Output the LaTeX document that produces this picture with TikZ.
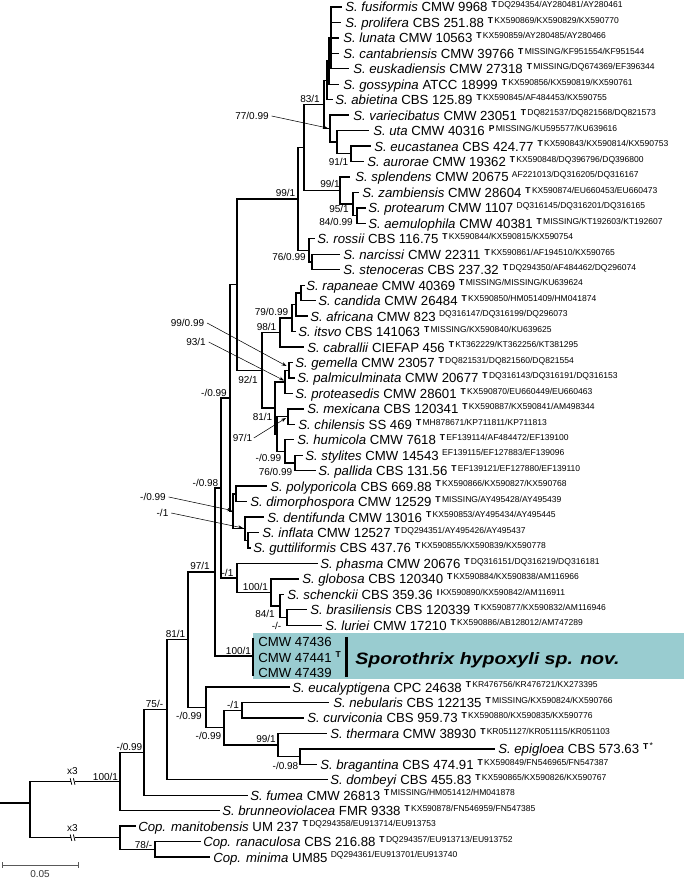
\documentclass[tikz,border=0pt]{standalone}
\usepackage{fontspec}
\setmainfont{Liberation Sans}
\usepackage{graphicx}
\usetikzlibrary{arrows.meta}
\definecolor{boxteal}{RGB}{153,204,208}
\newcommand\acT[1]{\hspace{3pt}\raisebox{3.2pt}{\fontsize{6.4}{7}\selectfont\textbf{T}\hspace{1pt}#1}}
\newcommand\acX[2]{\hspace{3pt}\raisebox{3.2pt}{\fontsize{6.4}{7}\selectfont\textbf{#1}\hspace{1pt}#2}}
\newcommand\acN[1]{\hspace{2.5pt}\raisebox{3.2pt}{\fontsize{6.4}{7}\selectfont #1}}
\begin{document}
\begin{tikzpicture}[x=0.75pt,y=-0.75pt,
  br/.style={line width=1.05pt, line cap=rect},
  tip/.style={anchor=base west, inner sep=0pt, font=\fontsize{9.9}{11}\selectfont},
  lab/.style={inner sep=0pt, font=\fontsize{7.5}{8}\selectfont},
  arr/.style={line width=0.4pt, -{Stealth[length=3.6pt,width=2.6pt]}},
  brk/.style={line width=0.6pt}]
\useasboundingbox (0,0) rectangle (684,880);
% new species box
\fill[boxteal] (253,633) rectangle (684,679);
\draw[line width=2.4pt] (346.5,637) -- (346.5,676.5);
\node[anchor=base west, inner sep=0pt, font=\fontsize{12.4}{14}\selectfont\bfseries\itshape] (spname) at (355,664) {\scalebox{1.185}[1]{Sporothrix hypoxyli sp. nov.}};
\node[tip] (n42) at (258,646.5) {CMW 47436};
\node[tip] (n43) at (258,662) {CMW 47441\acX{T}{}};
\node[tip] (n44) at (258,677) {CMW 47439};
% internal nodes
\coordinate (C1) at (331,37.9);
\coordinate (C2) at (329,61.1);
\coordinate (C3) at (327,80.4);
\coordinate (EA) at (351,153.8);
\coordinate (U) at (337,142.2);
\coordinate (V) at (330,128.7);
\coordinate (N83) at (324,104.55);
\coordinate (P) at (357,215.65);
\coordinate (Z) at (353,204.1);
\coordinate (S) at (340,190.55);
\coordinate (N304) at (304,147.55);
\coordinate (NS) at (312,262);
\coordinate (R) at (309,250.4);
\coordinate (N99) at (298,199);
\coordinate (A3) at (301,292.9);
\coordinate (A2) at (296,304.5);
\coordinate (A1) at (292,318);
\coordinate (N98) at (280,332.5);
\coordinate (G1) at (289,370.2);
\coordinate (G2) at (285,381.8);
\coordinate (MC) at (288,416.55);
\coordinate (SP) at (295,462.9);
\coordinate (H) at (285,451.3);
\coordinate (M) at (277,433.9);
\coordinate (N81a) at (275,407.85);
\coordinate (N92) at (262,370.2);
\coordinate (X) at (237,284.6);
\coordinate (PD) at (236,493.8);
\coordinate (IG) at (248,540.2);
\coordinate (DIG) at (245,528.6);
\coordinate (Y) at (233,511.2);
\coordinate (N099) at (230,397.9);
\coordinate (BL) at (287,617.45);
\coordinate (SC) at (280,605.9);
\coordinate (GL) at (271,592.35);
\coordinate (PH) at (237,577.9);
\coordinate (N098) at (221,487.9);
\coordinate (NEW) at (253,656.05);
\coordinate (nTop) at (253,638.5);
\coordinate (nBot) at (253,675.5);
\coordinate (N97) at (215,572);
\coordinate (NC) at (242,710.2);
\coordinate (EB) at (300,756.55);
\coordinate (TH) at (278,745);
\coordinate (F) at (224,727.6);
\coordinate (E) at (206,707.3);
\coordinate (N81b) at (188,639.65);
\coordinate (N75) at (167,709.7);
\coordinate (N0993) at (144,752.45);
\coordinate (N100) at (120,781.5);
\coordinate (CR) at (155,849.25);
\coordinate (COP) at (120,837.7);
\coordinate (ROOT) at (30,803);
\coordinate (R0) at (0,803);
% tip branch ends
\coordinate (e1) at (341,7.0);
\coordinate (e2) at (340,22.5);
\coordinate (e3) at (338,37.9);
\coordinate (e4) at (338,53.4);
\coordinate (e5) at (348,68.8);
\coordinate (e6) at (338,84.3);
\coordinate (e7) at (332,99.7);
\coordinate (e8) at (348,115.2);
\coordinate (e9) at (368,130.6);
\coordinate (e10) at (370,146.1);
\coordinate (e11) at (363,161.5);
\coordinate (e12) at (349,177.0);
\coordinate (e13) at (358,192.5);
\coordinate (e14) at (365,207.9);
\coordinate (e15) at (365,223.4);
\coordinate (e16) at (314,238.8);
\coordinate (e17) at (339,254.3);
\coordinate (e18) at (339,269.7);
\coordinate (e19) at (304,285.2);
\coordinate (e20) at (315,300.6);
\coordinate (e21) at (307,316.1);
\coordinate (e22) at (295,331.5);
\coordinate (e23) at (303,347.0);
\coordinate (e24) at (292,362.5);
\coordinate (e25) at (294,377.9);
\coordinate (e26) at (292,393.4);
\coordinate (e27) at (303,408.8);
\coordinate (e28) at (294,424.3);
\coordinate (e29) at (293,439.7);
\coordinate (e30) at (302,455.2);
\coordinate (e31) at (315,470.6);
\coordinate (e32) at (266,486.1);
\coordinate (e33) at (246,501.5);
\coordinate (e34) at (263,517.0);
\coordinate (e35) at (258,532.5);
\coordinate (e36) at (250,547.9);
\coordinate (e37) at (317,563.4);
\coordinate (e38) at (298,578.8);
\coordinate (e39) at (283,594.3);
\coordinate (e40) at (306,609.7);
\coordinate (e41) at (321,625.2);
\coordinate (e45) at (289,687.0);
\coordinate (e46) at (328,702.5);
\coordinate (e47) at (303,717.9);
\coordinate (e48) at (326,733.4);
\coordinate (e49) at (494,748.8);
\coordinate (e50) at (316,764.3);
\coordinate (e51) at (327,779.7);
\coordinate (e52) at (247,795.2);
\coordinate (e53) at (219,810.6);
\coordinate (e54) at (135,826.1);
\coordinate (e55) at (200,841.5);
\coordinate (e56) at (209,857.0);
% branches
\foreach \pa/\ch in {C1/e1,C1/e2,C1/e3,C1/e4,C1/e5,C2/C1,C2/e6,C3/C2,C3/e7,
  N83/C3,N83/V,V/e8,V/U,U/e9,U/EA,EA/e10,EA/e11,N304/N83,N304/S,S/e12,S/Z,
  Z/e13,Z/P,P/e14,P/e15,N99/N304,N99/R,R/e16,R/NS,NS/e17,NS/e18,X/N99,X/N92,
  N92/N98,N92/N81a,N98/A1,N98/e23,A1/A2,A1/e22,A2/A3,A2/e21,A3/e19,A3/e20,
  N81a/G2,N81a/M,G2/G1,G2/e26,G1/e24,G1/e25,M/MC,M/H,MC/e27,MC/e28,H/e29,H/SP,
  SP/e30,SP/e31,N099/X,N099/Y,Y/PD,Y/DIG,PD/e32,PD/e33,DIG/e34,DIG/IG,IG/e35,
  IG/e36,N098/N099,N098/PH,PH/e37,PH/GL,GL/e38,GL/SC,SC/e39,SC/BL,BL/e40,BL/e41,
  N97/N098,N97/NEW,N81b/N97,N81b/E,E/e45,E/F,F/NC,F/TH,NC/e46,NC/e47,TH/e48,
  TH/EB,EB/e49,EB/e50,N75/N81b,N75/e51,N0993/N75,N0993/e52,N100/N0993,N100/e53,
  COP/e54,COP/CR,CR/e55,CR/e56,ROOT/N100,ROOT/COP}
  {\draw[br] (\pa) |- (\ch);}
\draw[br] (R0) -- (ROOT);
\draw[br] (nTop) -- (nBot);
% break marks
\foreach \yy in {781.5,837.7}{
  \fill[white] (71,\yy-1.2) rectangle (74.5,\yy+1.2);
  \draw[brk] (70.2,\yy-3.2) -- (71.8,\yy+3.2);
  \draw[brk] (73.4,\yy-3.2) -- (75,\yy+3.2);
}
\node[lab] (x3a) at (72.5,771) {x3};
\node[lab] (x3b) at (72.5,828) {x3};
% tips
\node[tip] (t1) at (345,12.0) {\textit{S. fusiformis} CMW 9968\acT{DQ294354/AY280481/AY280461}};
\node[tip] (t2) at (345,27.5) {\textit{S. prolifera} CBS 251.88\acT{KX590869/KX590829/KX590770}};
\node[tip] (t3) at (343,42.9) {\textit{S. lunata} CMW 10563\acT{KX590859/AY280485/AY280466}};
\node[tip] (t4) at (343,58.4) {\textit{S. cantabriensis} CMW 39766\acT{MISSING/KF951554/KF951544}};
\node[tip] (t5) at (353,73.8) {\textit{S. euskadiensis} CMW 27318\acT{MISSING/DQ674369/EF396344}};
\node[tip] (t6) at (343,89.3) {\textit{S. gossypina} ATCC 18999\acT{KX590856/KX590819/KX590761}};
\node[tip] (t7) at (335,104.7) {\textit{S. abietina} CBS 125.89\acT{KX590845/AF484453/KX590755}};
\node[tip] (t8) at (353,120.2) {\textit{S. variecibatus} CMW 23051\acT{DQ821537/DQ821568/DQ821573}};
\node[tip] (t9) at (373,135.6) {\textit{S. uta} CMW 40316\acX{P}{MISSING/KU595577/KU639616}};
\node[tip] (t10) at (374,151.1) {\textit{S. eucastanea} CBS 424.77\acT{KX590843/KX590814/KX590753}};
\node[tip] (t11) at (367,166.5) {\textit{S. aurorae} CMW 19362\acT{KX590848/DQ396796/DQ396800}};
\node[tip] (t12) at (355,182.0) {\textit{S. splendens} CMW 20675\acN{AF221013/DQ316205/DQ316167}};
\node[tip] (t13) at (362,197.5) {\textit{S. zambiensis} CMW 28604\acT{KX590874/EU660453/EU660473}};
\node[tip] (t14) at (368,212.9) {\textit{S. protearum} CMW 1107\acN{DQ316145/DQ316201/DQ316165}};
\node[tip] (t15) at (368,228.4) {\textit{S. aemulophila} CMW 40381\acT{MISSING/KT192603/KT192607}};
\node[tip] (t16) at (317,243.8) {\textit{S. rossii} CBS 116.75\acT{KX590844/KX590815/KX590754}};
\node[tip] (t17) at (343,259.3) {\textit{S. narcissi} CMW 22311\acT{KX590861/AF194510/KX590765}};
\node[tip] (t18) at (343,274.7) {\textit{S. stenoceras} CBS 237.32\acT{DQ294350/AF484462/DQ296074}};
\node[tip] (t19) at (306,290.2) {\textit{S. rapaneae} CMW 40369\acT{MISSING/MISSING/KU639624}};
\node[tip] (t20) at (318,305.6) {\textit{S. candida} CMW 26484\acT{KX590850/HM051409/HM041874}};
\node[tip] (t21) at (310,321.1) {\textit{S. africana} CMW 823\acN{DQ316147/DQ316199/DQ296073}};
\node[tip] (t22) at (298,336.5) {\textit{S. itsvo} CBS 141063\acT{MISSING/KX590840/KU639625}};
\node[tip] (t23) at (307,352.0) {\textit{S. cabrallii} CIEFAP 456\acT{KT362229/KT362256/KT381295}};
\node[tip] (t24) at (295,367.5) {\textit{S. gemella} CMW 23057\acT{DQ821531/DQ821560/DQ821554}};
\node[tip] (t25) at (297,382.9) {\textit{S. palmiculminata} CMW 20677\acT{DQ316143/DQ316191/DQ316153}};
\node[tip] (t26) at (295,398.4) {\textit{S. proteasedis} CMW 28601\acT{KX590870/EU660449/EU660463}};
\node[tip] (t27) at (307,413.8) {\textit{S. mexicana} CBS 120341\acT{KX590887/KX590841/AM498344}};
\node[tip] (t28) at (298,429.3) {\textit{S. chilensis} SS 469\acT{MH878671/KP711811/KP711813}};
\node[tip] (t29) at (297,444.7) {\textit{S. humicola} CMW 7618\acT{EF139114/AF484472/EF139100}};
\node[tip] (t30) at (305,460.2) {\textit{S. stylites} CMW 14543\acN{EF139115/EF127883/EF139096}};
\node[tip] (t31) at (318,475.6) {\textit{S. pallida} CBS 131.56\acT{EF139121/EF127880/EF139110}};
\node[tip] (t32) at (270,491.1) {\textit{S. polyporicola} CBS 669.88\acT{KX590866/KX590827/KX590768}};
\node[tip] (t33) at (250,506.5) {\textit{S. dimorphospora} CMW 12529\acT{MISSING/AY495428/AY495439}};
\node[tip] (t34) at (267,522.0) {\textit{S. dentifunda} CMW 13016\acT{KX590853/AY495434/AY495445}};
\node[tip] (t35) at (262,537.5) {\textit{S. inflata} CMW 12527\acT{DQ294351/AY495426/AY495437}};
\node[tip] (t36) at (253,552.9) {\textit{S. guttiliformis} CBS 437.76\acT{KX590855/KX590839/KX590778}};
\node[tip] (t37) at (320,568.4) {\textit{S. phasma} CMW 20676\acT{DQ316151/DQ316219/DQ316181}};
\node[tip] (t38) at (302,583.8) {\textit{S. globosa} CBS 120340\acT{KX590884/KX590838/AM116966}};
\node[tip] (t39) at (287,599.3) {\textit{S. schenckii} CBS 359.36\acX{I}{KX590890/KX590842/AM116911}};
\node[tip] (t40) at (310,614.7) {\textit{S. brasiliensis} CBS 120339\acT{KX590877/KX590832/AM116946}};
\node[tip] (t41) at (325,630.2) {\textit{S. luriei} CMW 17210\acT{KX590886/AB128012/AM747289}};
\node[tip] (t45) at (292,692.0) {\textit{S. eucalyptigena} CPC 24638\acT{KR476756/KR476721/KX273395}};
\node[tip] (t46) at (333,707.5) {\textit{S. nebularis} CBS 122135\acT{MISSING/KX590824/KX590766}};
\node[tip] (t47) at (307,722.9) {\textit{S. curviconia} CBS 959.73\acT{KX590880/KX590835/KX590776}};
\node[tip] (t48) at (330,738.4) {\textit{S. thermara} CMW 38930\acT{KR051127/KR051115/KR051103}};
\node[tip] (t49) at (498,753.8) {\textit{S. epigloea} CBS 573.63\acX{T}{\raisebox{1pt}{*}}};
\node[tip] (t50) at (320,769.3) {\textit{S. bragantina} CBS 474.91\acT{KX590849/FN546965/FN547387}};
\node[tip] (t51) at (330,784.7) {\textit{S. dombeyi} CBS 455.83\acT{KX590865/KX590826/KX590767}};
\node[tip] (t52) at (250,800.2) {\textit{S. fumea} CMW 26813\acT{MISSING/HM051412/HM041878}};
\node[tip] (t53) at (222,815.6) {\textit{S. brunneoviolacea} FMR 9338\acT{KX590878/FN546959/FN547385}};
\node[tip] (t54) at (138,831.1) {\textit{Cop. manitobensis} UM 237\acT{DQ294358/EU913714/EU913753}};
\node[tip] (t55) at (203,846.5) {\textit{Cop. ranaculosa} CBS 216.88\acT{DQ294357/EU913713/EU913752}};
\node[tip] (t56) at (213,862.0) {\textit{Cop. minima} UM85\acN{DQ294361/EU913701/EU913740}};
% support labels
\node[lab] (l83) at (310,99) {83/1};
\node[lab] (l77) at (252,116) {77/0.99};
\node[lab] (l91) at (338.5,162) {91/1};
\node[lab] (l99s) at (330,184) {99/1};
\node[lab] (l99b) at (285.5,193) {99/1};
\node[lab] (l95) at (339,209) {95/1};
\node[lab] (l84) at (336,222) {84/0.99};
\node[lab] (l76r) at (289,257) {76/0.99};
\node[lab] (l79) at (271.5,312) {79/0.99};
\node[lab] (l98) at (266.5,327) {98/1};
\node[lab] (l9999) at (187.5,323) {99/0.99};
\node[lab] (l93) at (196,342) {93/1};
\node[lab] (l92) at (248,380) {92/1};
\node[lab] (l81a) at (262.5,417) {81/1};
\node[lab] (l97m) at (242.5,438) {97/1};
\node[lab] (lH) at (268.5,458) {-/0.99};
\node[lab] (lSP) at (275.5,472) {76/0.99};
\node[lab] (lY) at (153,497) {-/0.99};
\node[lab] (lDIG) at (162.5,513) {-/1};
\node[lab] (l099) at (214,393) {-/0.99};
\node[lab] (l098) at (205.5,483) {-/0.98};
\node[lab] (l97) at (200,566) {97/1};
\node[lab] (lPH) at (227.5,572.5) {-/1};
\node[lab] (lGL) at (255.5,587) {100/1};
\node[lab] (lSC) at (265,614) {84/1};
\node[lab] (lBL) at (276.5,626) {-/-};
\node[lab] (lNEW) at (238.5,650.5) {100/1};
\node[lab] (l81b) at (175.5,633.5) {81/1};
\node[lab] (lE) at (189,715.5) {-/0.99};
\node[lab] (lNC) at (233,704.5) {-/1};
\node[lab] (lF) at (208.5,735.5) {-/0.99};
\node[lab] (lTH) at (266,739) {99/1};
\node[lab] (lEB) at (285.5,766) {-/0.98};
\node[lab] (l75) at (154.5,704) {75/-};
\node[lab] (l0993) at (129.5,746.5) {-/0.99};
\node[lab] (l100) at (105.5,776.5) {100/1};
\node[lab] (l78) at (143.5,844.5) {78/-};
% arrows
\coordinate (a77) at (327.5,128);
\coordinate (a9999) at (286.5,366);
\coordinate (a93) at (284,380.5);
\coordinate (a97) at (286,418);
\coordinate (aY) at (232,510.5);
\coordinate (aDIG) at (243,528);
\draw[arr] ([xshift=2pt]l77.east) -- (a77);
\draw[arr] ([xshift=2pt]l9999.east) -- (a9999);
\draw[arr] ([xshift=2pt]l93.east) -- (a93);
\draw[arr] ([xshift=1pt]l97m.east) -- (a97);
\draw[arr] ([xshift=2pt]lY.east) -- (aY);
\draw[arr] ([xshift=2pt]lDIG.east) -- (aDIG);
% scale bar
\coordinate (sb1) at (2,865);
\coordinate (sb2) at (78,865);
\draw[black!65, line width=0.6pt] (sb1) -- (sb2);
\draw[black!65, line width=0.6pt] (2,862) -- (2,868);
\draw[black!65, line width=0.6pt] (78,862) -- (78,868);
\node[lab, text=black!80] (sbl) at (40,874) {0.05};
\end{tikzpicture}
\end{document}
